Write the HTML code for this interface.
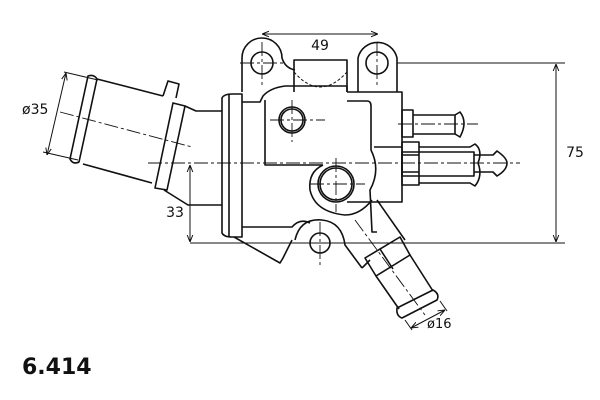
<!DOCTYPE html>
<html><head><style>
html,body{margin:0;padding:0;background:#fff;width:600px;height:400px;overflow:hidden}
svg{display:block}
text{font-family:"DejaVu Sans","Liberation Sans",sans-serif;fill:#111}
</style></head><body>
<svg width="600" height="400" viewBox="0 0 600 400" xmlns="http://www.w3.org/2000/svg">
<defs>
<marker id="a" viewBox="0 0 10 10" refX="10" refY="5" markerWidth="7" markerHeight="7" orient="auto-start-reverse"><path d="M0,1 L10,5 L0,9" fill="none" stroke="#111" stroke-width="1.4"/></marker>
</defs>
<g fill="none" stroke="#111" stroke-width="1.6" stroke-linejoin="round">
<!-- left pipe -->
<path d="M70,159 L88,76 Q94,74 97,79 L79,162 Q73,165 70,159 Z"/>
<path d="M97,79 L163,96"/>
<path d="M83,164 L152,183"/>
<path d="M165,93 L155,190 L152,190 Z" stroke-width="0"/>
<path d="M163,96 L168,81 L179,84 L176,98"/>
<path d="M155,188 L167,190 L185,106 L173,103 Z"/>
<path d="M185,106 L196,111 L222,111"/>
<path d="M164,190 L188,205 L222,205"/>
<!-- flange -->
<path d="M222,98 Q224,94 232,94 L242,94 L242,237 L232,237 Q224,237 222,233 Z"/>
<line x1="229" y1="94" x2="229" y2="237"/>
<!-- body -->
<path d="M242,102 L260,102 L263,96 Q270,88 285,86 L347,86 L347,92"/>
<path d="M242,227 L292,227 Q300,218 310,223"/>
<path d="M234,237 L280,263 L283,258 Q287,250 292,240"/>
<!-- top left lug -->
<path d="M242,92 L242,58 A20,20 0 0 1 282,58 Q285,68 295,70"/>
<circle cx="262" cy="63" r="11"/>
<!-- top block -->
<path d="M294,92 L294,60 L347,60 L347,92"/>
<path d="M294,72 Q320,102 347,72" stroke-dasharray="3,2" stroke-width="1"/>
<path d="M265,100 L265,165 L323,165"/>
<!-- right lug -->
<path d="M358,92 L358,58 A20,20 0 0 1 397,58 L397,92"/>
<circle cx="377" cy="63" r="11"/>
<!-- right block -->
<path d="M347,92 L402,92 L402,202 L347,202"/>
<path d="M347,101 L367,101 Q371,101 371,106 L371,150 Q381,170 370,190 L372,232 L377,232"/>
<line x1="374" y1="147" x2="402" y2="147"/>
<!-- holes -->
<circle cx="292" cy="120" r="13"/>
<circle cx="292" cy="120" r="11"/>
<circle cx="336" cy="184" r="18"/>
<circle cx="336" cy="184" r="16"/>
<path d="M323,165 Q308,172 310,190 Q315,212 345,215 Q360,215 372,200"/>
<!-- bottom lug -->
<path d="M295,240 Q300,218 322,220 Q342,222 345,245 L362,268"/>
<circle cx="320" cy="243" r="10"/>
<!-- upper nipple -->
<rect x="402" y="110" width="11" height="27"/>
<path d="M413,115 L455,115 L460,112 Q468,122 460,137 L455,134 L413,134"/>
<line x1="455" y1="115" x2="455" y2="134"/>
<!-- lower nipple -->
<rect x="402" y="142" width="17" height="43"/>
<line x1="402" y1="155" x2="419" y2="155"/>
<line x1="402" y1="172" x2="419" y2="172"/>
<path d="M419,147 L470,147 L475,144 Q483,150 478,163 Q483,176 475,186 L470,183 L419,183"/>
<rect x="402" y="152" width="72" height="24"/>
<path d="M474,155 L493,155 L497,151 Q507,158 507,163 Q507,170 497,176 L493,172 L474,172"/>
<!-- lower right pipe -->
<path d="M377,200 L405,240"/>
<path d="M362,268 L370,260"/>
<path d="M365,258 L400,237 L410,255 L376,276 Z"/>
<line x1="380" y1="249" x2="393" y2="269"/>
<path d="M376,276 L399,309 M410,255 L433,291"/>
<path d="M397,308 L433,290 Q440,294 437,300 L402,318 Q396,316 397,308 Z"/>
<path d="M402,318 L405,305 M437,300 L425,296" stroke-width="0"/>
</g>
<!-- centerlines -->
<g stroke="#111" stroke-width="0.9" fill="none" stroke-dasharray="14,3,3,3">
<line x1="148" y1="163" x2="520" y2="163"/>
<line x1="60" y1="112" x2="192" y2="147"/>
<line x1="270" y1="120" x2="325" y2="120"/>
<line x1="292" y1="100" x2="292" y2="142"/>
<line x1="310" y1="184" x2="365" y2="184"/>
<line x1="336" y1="158" x2="336" y2="212"/>
<line x1="398" y1="124" x2="478" y2="124"/>
<line x1="240" y1="63" x2="285" y2="63"/>
<line x1="262" y1="42" x2="262" y2="85"/>
<line x1="377" y1="42" x2="377" y2="85"/>
<line x1="320" y1="222" x2="320" y2="265"/>
<line x1="355" y1="220" x2="425" y2="315"/>
</g>
<!-- dimensions -->
<g stroke="#111" stroke-width="1" fill="none">
<line x1="262" y1="34" x2="378" y2="34" marker-start="url(#a)" marker-end="url(#a)"/>
<line x1="397" y1="63" x2="565" y2="63"/>
<line x1="190" y1="243" x2="565" y2="243"/>
<line x1="556" y1="64" x2="556" y2="242" marker-start="url(#a)" marker-end="url(#a)"/>
<line x1="190" y1="165" x2="190" y2="242" marker-start="url(#a)" marker-end="url(#a)"/>
<line x1="64" y1="72" x2="98" y2="80"/>
<line x1="43" y1="152" x2="78" y2="160"/>
<line x1="66" y1="73" x2="47" y2="155" marker-start="url(#a)" marker-end="url(#a)"/>
<line x1="405" y1="320" x2="412" y2="330"/>
<line x1="440" y1="301" x2="447" y2="311"/>
<line x1="411" y1="328" x2="445" y2="310" marker-start="url(#a)" marker-end="url(#a)"/>
</g>
<text x="320" y="50" font-size="14" text-anchor="middle">49</text>
<text x="575" y="157" font-size="14" text-anchor="middle">75</text>
<text x="175" y="217" font-size="14" text-anchor="middle">33</text>
<text x="22" y="114" font-size="14">ø35</text>
<text x="427" y="328" font-size="13">ø16</text>
<text x="22" y="374" font-size="22" font-weight="bold">6.414</text>
</svg>
</body></html>
